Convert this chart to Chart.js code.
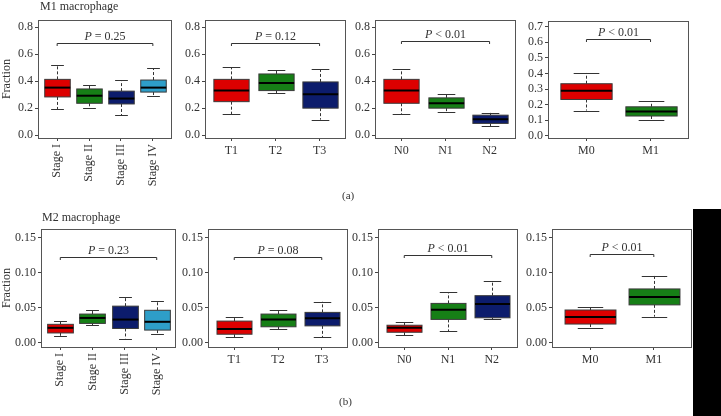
<!DOCTYPE html>
<html>
<head>
<meta charset="utf-8">
<script src="https://cdn.jsdelivr.net/npm/chart.js@4.4.1/dist/chart.umd.min.js"></script>
<style>
  body{margin:0;width:721px;height:416px;position:relative;overflow:hidden;background:#fff;font-family:"Liberation Serif",serif;color:#333}
  canvas{position:absolute}
  .lbl{position:absolute;font-size:12px;line-height:1;white-space:nowrap;z-index:20}
  .blk{position:absolute;left:693px;top:209px;width:28px;height:207px;background:#000;z-index:20}
</style>
</head>
<body>
<div class="lbl" style="left:40px;top:0px">M1 macrophage</div>
<div class="lbl" style="left:42px;top:211px">M2 macrophage</div>
<div class="lbl" style="left:342px;top:190px;font-size:11px">(a)</div>
<div class="lbl" style="left:339px;top:396px;font-size:11px">(b)</div>
<div class="blk"></div>

<script>
const stageCats = ['Stage I','Stage II','Stage III','Stage IV'];
const tCats = ['T1','T2','T3'];
const nCats = ['N0','N1','N2'];
const mCats = ['M0','M1'];

// each box: [min, q1, median, q3, max]
const m1Stage = [[0.194,0.284,0.353,0.414,0.52],[0.201,0.237,0.293,0.343,0.374],[0.147,0.232,0.272,0.327,0.409],[0.289,0.32,0.353,0.409,0.497]];
const m1T = [[0.154,0.249,0.331,0.414,0.502],[0.312,0.331,0.388,0.454,0.483],[0.116,0.201,0.303,0.395,0.488]];
const m1N = [[0.154,0.237,0.331,0.414,0.49],[0.17,0.201,0.237,0.277,0.303],[0.066,0.088,0.118,0.149,0.166]];
const m1M = [[0.162,0.233,0.289,0.334,0.403],[0.104,0.127,0.156,0.186,0.221]];
const m2Stage = [[0.01,0.0141,0.0214,0.0264,0.0318],[0.025,0.0277,0.0355,0.041,0.0464],[0.006,0.0205,0.0332,0.0523,0.066],[0.0127,0.0182,0.03,0.0464,0.06]];
const m2T = [[0.0082,0.0123,0.0197,0.031,0.0375],[0.0197,0.0229,0.0334,0.041,0.0466],[0.0082,0.0242,0.0352,0.0434,0.0585]];
const m2N = [[0.0105,0.0151,0.0215,0.0251,0.0302],[0.0165,0.0334,0.047,0.0562,0.0718],[0.0338,0.0357,0.0553,0.0672,0.0878]];
const m2M = [[0.0214,0.0268,0.0368,0.0468,0.0509],[0.0373,0.0541,0.0655,0.0768,0.0959]];

const m1Ticks = [0,0.2,0.4,0.6,0.8];
const m1MTicks = [0,0.1,0.2,0.3,0.4,0.5,0.6,0.7];
const m2Ticks = [0,0.05,0.1,0.15];

const m1PValues = ['= 0.25','= 0.12','< 0.01','< 0.01'];
const m2PValues = ['= 0.23','= 0.08','< 0.01','< 0.01'];
const m1BracketY = [0.686,0.686,0.698,0.618];
const m2BracketY = [0.1218,0.1225,0.1248,0.1264];

const fills = ['#dd0000','#167f16','#0c1c6c','#2e9ec8'];
const FONT = '"Liberation Serif", serif';

Chart.defaults.font.family = FONT;
Chart.defaults.font.size = 12;
Chart.defaults.color = '#333';

// plot rect [left, top, right, bottom] in page px, yw = room for the y axis
const panels = [
  {cats:stageCats, boxes:m1Stage, ticks:m1Ticks, dec:1, yMin:-0.02, yMax:0.852, p:m1PValues[0], by:m1BracketY[0], rect:[38,15,172,138], yw:38, yTitle:'Fraction', rot:true},
  {cats:tCats, boxes:m1T, ticks:m1Ticks, dec:1, yMin:-0.02, yMax:0.852, p:m1PValues[1], by:m1BracketY[1], rect:[205,15,346,138], yw:31},
  {cats:nCats, boxes:m1N, ticks:m1Ticks, dec:1, yMin:-0.02, yMax:0.852, p:m1PValues[2], by:m1BracketY[2], rect:[375,15,516,138], yw:28},
  {cats:mCats, boxes:m1M, ticks:m1MTicks, dec:1, yMin:-0.014, yMax:0.735, p:m1PValues[3], by:m1BracketY[3], rect:[548,16,689,138], yw:31},
  {cats:stageCats, boxes:m2Stage, ticks:m2Ticks, dec:2, yMin:-0.0059, yMax:0.1619, p:m2PValues[0], by:m2BracketY[0], rect:[41,224,176,347], yw:41, yTitle:'Fraction', rot:true},
  {cats:tCats, boxes:m2T, ticks:m2Ticks, dec:2, yMin:-0.0059, yMax:0.1619, p:m2PValues[1], by:m2BracketY[1], rect:[208,224,348,347], yw:31},
  {cats:nCats, boxes:m2N, ticks:m2Ticks, dec:2, yMin:-0.0059, yMax:0.1619, p:m2PValues[2], by:m2BracketY[2], rect:[378,224,518,347], yw:29},
  {cats:mCats, boxes:m2M, ticks:m2Ticks, dec:2, yMin:-0.0059, yMax:0.1619, p:m2PValues[3], by:m2BracketY[3], rect:[552,224,692,347], yw:33}
];

function seg(ctx,x1,y1,x2,y2){ctx.beginPath();ctx.moveTo(x1,y1);ctx.lineTo(x2,y2);ctx.stroke()}

const whiteBg = {
  id:'whiteBg',
  beforeDraw(chart){
    const c = chart.ctx;
    c.save(); c.fillStyle='#fff'; c.fillRect(0,0,chart.width,chart.height); c.restore();
  }
};

const boxPlugin = {
  id:'boxes',
  afterDatasetsDraw(chart){
    const {ctx, chartArea:a, scales:{x,y}} = chart;
    const o = chart.options.plugins.boxes;
    ctx.save();
    o.boxes.forEach((b,i)=>{
      const [mn,q1,md,q3,mx] = b;
      const cx = Math.round(x.getPixelForValue(i))+0.5;
      const hw = x.getPixelForValue(i+0.4)-x.getPixelForValue(i);
      const cw = x.getPixelForValue(i+0.2)-x.getPixelForValue(i);
      ctx.strokeStyle='#333'; ctx.lineWidth=1;
      ctx.setLineDash([3,2]);
      seg(ctx,cx,y.getPixelForValue(q3),cx,y.getPixelForValue(mx));
      seg(ctx,cx,y.getPixelForValue(q1),cx,y.getPixelForValue(mn));
      ctx.setLineDash([]);
      seg(ctx,cx-cw,Math.round(y.getPixelForValue(mx))+0.5,cx+cw,Math.round(y.getPixelForValue(mx))+0.5);
      seg(ctx,cx-cw,Math.round(y.getPixelForValue(mn))+0.5,cx+cw,Math.round(y.getPixelForValue(mn))+0.5);
      const top = y.getPixelForValue(q3), bot = y.getPixelForValue(q1);
      ctx.fillStyle = o.colors[i];
      ctx.fillRect(cx-hw,top,hw*2,bot-top);
      ctx.strokeStyle='#3a3a3a';
      ctx.strokeRect(cx-hw,top,hw*2,bot-top);
      ctx.strokeStyle='#000'; ctx.lineWidth=2;
      const my = y.getPixelForValue(md);
      seg(ctx,cx-hw,my,cx+hw,my);
    });
    // significance bracket + label
    const x1 = x.getPixelForValue(0), x2 = x.getPixelForValue(o.boxes.length-1);
    const yb = Math.round(y.getPixelForValue(o.by))+0.5;
    ctx.strokeStyle='#333'; ctx.lineWidth=1;
    ctx.beginPath();ctx.moveTo(x1,yb+2.5);ctx.lineTo(x1,yb);ctx.lineTo(x2,yb);ctx.lineTo(x2,yb+2.5);ctx.stroke();
    ctx.fillStyle='#333';
    ctx.textBaseline='alphabetic';
    ctx.font='italic 12px '+FONT;
    const wP = ctx.measureText('P ').width;
    ctx.font='12px '+FONT;
    const wR = ctx.measureText(o.p).width;
    const tx = (x1+x2)/2-(wP+wR)/2;
    ctx.font='italic 12px '+FONT;
    ctx.fillText('P',tx,yb-4);
    ctx.font='12px '+FONT;
    ctx.fillText(o.p,tx+wP,yb-4);
    // panel frame
    ctx.strokeStyle='#555'; ctx.lineWidth=1;
    ctx.strokeRect(Math.round(a.left)+0.5,Math.round(a.top)+0.5,Math.round(a.right-a.left)-1,Math.round(a.bottom-a.top));
    ctx.restore();
  }
};

panels.forEach((pn,k)=>{
  const [L,T,R,B] = pn.rect;
  const padTop = 4;
  const xh = pn.rot ? 70 : 26;
  const cv = document.createElement('canvas');
  cv.width = pn.yw + (R-L);
  cv.height = padTop + (B-T) + xh;
  cv.style.left = (L-pn.yw)+'px';
  cv.style.top = (T-padTop)+'px';
  cv.style.zIndex = k+1;
  document.body.appendChild(cv);
  const n = pn.cats.length;
  new Chart(cv,{
    type:'line',
    data:{datasets:[{data:pn.boxes.map((b,i)=>({x:i,y:b[2]})),showLine:false,pointRadius:0}]},
    options:{
      responsive:false,animation:false,events:[],
      layout:{padding:{top:padTop,right:0,left:0,bottom:0}},
      plugins:{legend:{display:false},tooltip:{enabled:false},
        boxes:{boxes:pn.boxes,colors:fills,p:pn.p,by:pn.by}},
      scales:{
        x:{type:'linear',min:-0.6,max:n-1+0.6,
          afterBuildTicks:s=>{s.ticks=pn.cats.map((c,i)=>({value:i}))},
          afterFit:s=>{s.height=xh},
          grid:{drawOnChartArea:false,drawTicks:true,tickLength:3,color:'#444'},
          border:{display:true,color:'#555'},
          ticks:{autoSkip:false,padding:3,color:'#333',minRotation:pn.rot?90:0,maxRotation:pn.rot?90:0,
            callback:v=>pn.cats[v]}},
        y:{type:'linear',min:pn.yMin,max:pn.yMax,
          afterBuildTicks:s=>{s.ticks=pn.ticks.map(v=>({value:v}))},
          afterFit:s=>{s.width=pn.yw},
          grid:{drawOnChartArea:false,drawTicks:true,tickLength:3,color:'#444'},
          border:{display:true,color:'#555'},
          title:{display:!!pn.yTitle,text:pn.yTitle||'',padding:{top:0,bottom:0},color:'#333',font:{size:12}},
          ticks:{autoSkip:false,padding:2,color:'#333',callback:v=>Number(v).toFixed(pn.dec)}}
      }
    },
    plugins:[whiteBg,boxPlugin]
  });
});
</script>
</body>
</html>
